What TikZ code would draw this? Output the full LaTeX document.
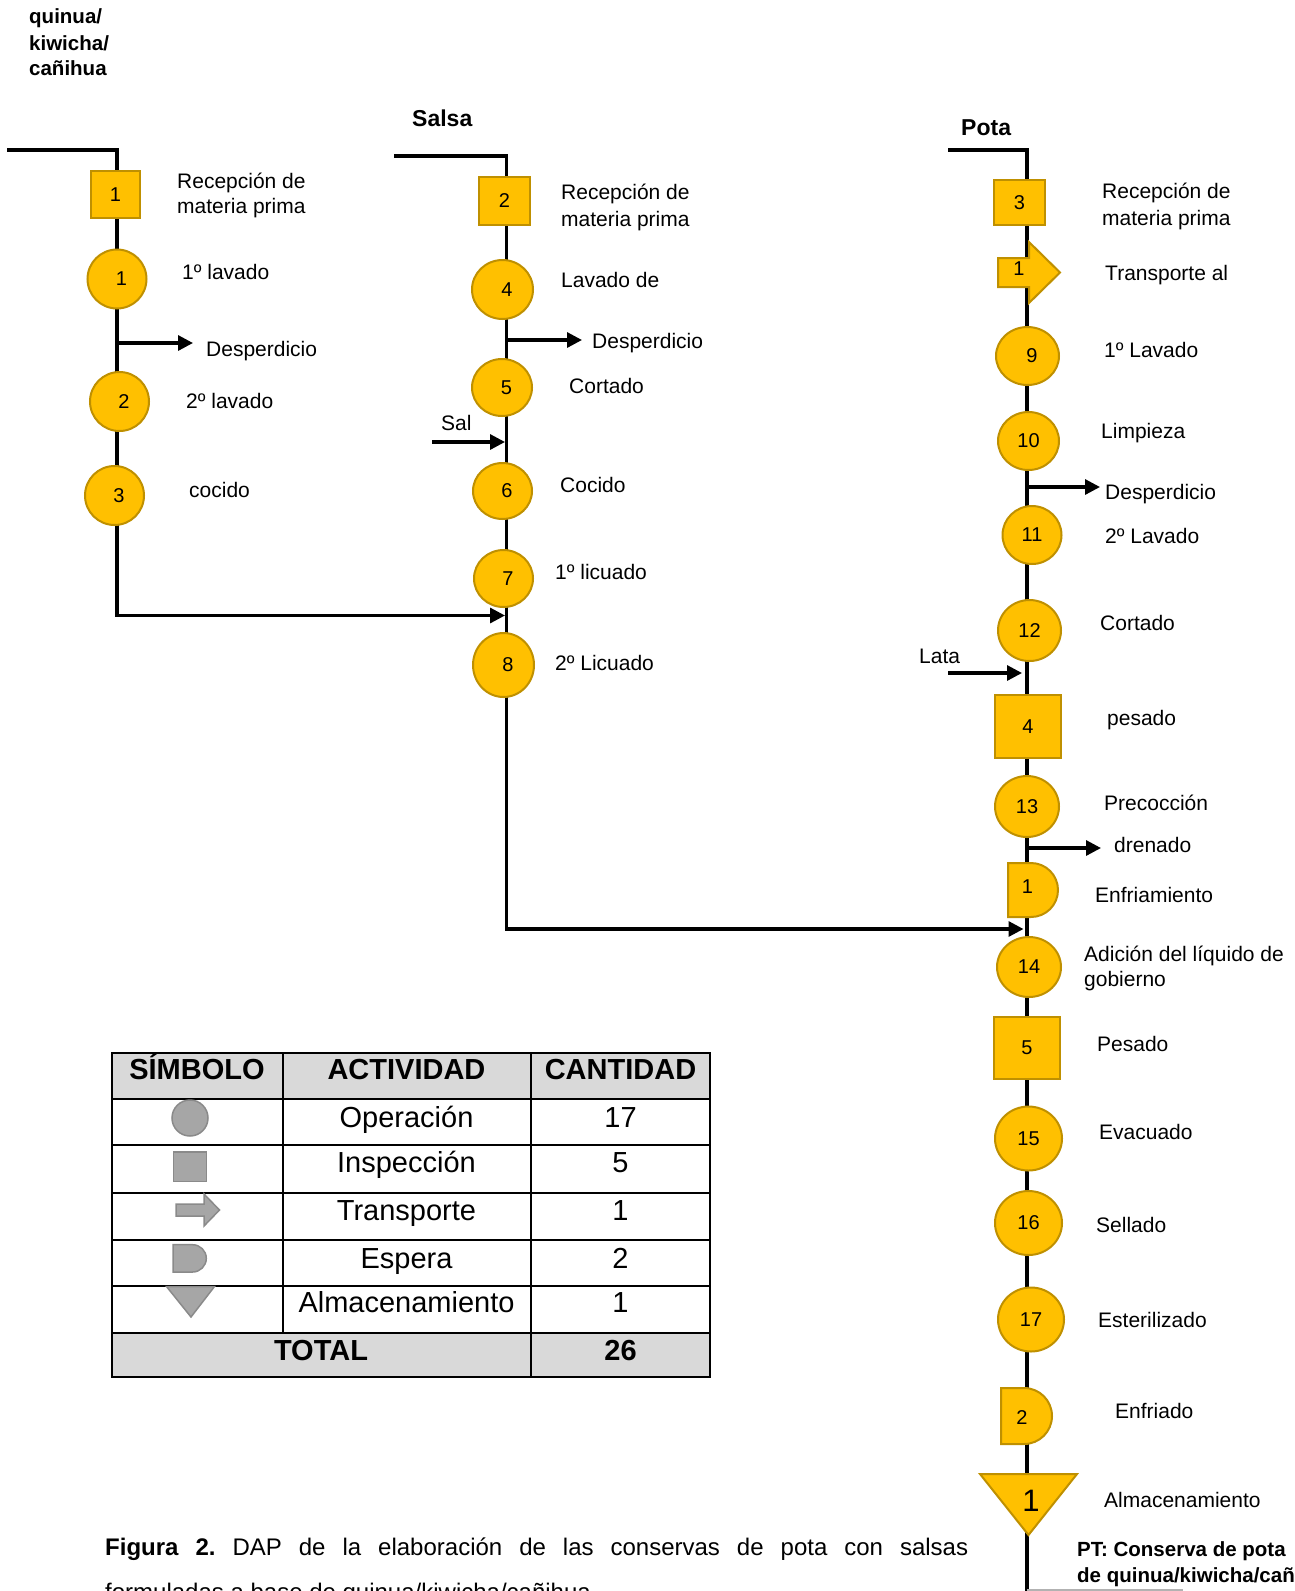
\documentclass[tikz,border=0pt]{standalone}
\usepackage{fontspec}
\setmainfont{Liberation Sans}
\usetikzlibrary{shapes.geometric,arrows.meta}
\definecolor{gold}{HTML}{FFC000}
\definecolor{golddk}{HTML}{BF9000}
\definecolor{symgray}{HTML}{A6A6A6}
\definecolor{symdk}{HTML}{8A8A8A}
\definecolor{hdrgray}{HTML}{D9D9D9}
\newcommand\fsz[1]{\fontsize{#1}{#1}\selectfont}
% single-digit operation numbers sit a little right of centre
\newcommand\rd[1]{\hspace*{9pt}#1}
\tikzset{
  flow/.style={line width=3.2pt, black},
  sidearrow/.style={-{Triangle[length=15pt 0 0,width=15pt 0 0]}},
  opn/.style 2 args={ellipse, draw=golddk, fill=gold, line width=2pt, inner sep=0pt,
    minimum width=#1pt, minimum height=#2pt, font=\fsz{20}},
  insp/.style 2 args={rectangle, draw=golddk, fill=gold, line width=2pt, inner sep=0pt,
    minimum width=#1pt, minimum height=#2pt, font=\fsz{20}},
  goldshape/.style={draw=golddk, fill=gold, line width=2pt, line join=miter},
  num/.style={inner sep=0pt, font=\fsz{20}},
  lbl/.style={anchor=base west, inner sep=0pt, font=\fsz{21}},
  ttl/.style={anchor=base west, inner sep=0pt, font=\bfseries\fsz{23}},
  ttlsm/.style={anchor=base west, inner sep=0pt, font=\bfseries\fsz{20.5}},
  sym/.style={draw=symdk, fill=symgray, line width=1.5pt},
  tbl/.style={line width=2pt, black},
  cell/.style={anchor=base, inner sep=0pt, font=\fsz{29}},
  hcell/.style={anchor=base, inner sep=0pt, font=\bfseries\fsz{29}},
}
\begin{document}
\begin{tikzpicture}[x=1pt,y=-1pt]
\useasboundingbox (0,0) rectangle (1294,1591);
\clip (0,0) rectangle (1294,1591);

% ---------- main flow lines ----------
\coordinate (qa) at (7,150);      \coordinate (qb) at (117,615.5);
\coordinate (sjoin) at (505,615.5);
\coordinate (sa) at (394,156);    \coordinate (sb) at (506.5,929);
\coordinate (pjoin) at (1023.5,929);
\coordinate (pa) at (948,150);    \coordinate (pb) at (1027,1591);
\draw[flow,sidearrow] (qa) -| (qb) -- (sjoin);
\draw[flow,sidearrow] (sa) -| (sb) -- (pjoin);
\draw[flow] (pa) -| (pb);
\draw[gray!60, line width=1.2pt] (pb |- 0,1590) -- (1183,1590);

% ---------- side inputs and outputs ----------
\coordinate (w1a) at (117,343);    \coordinate (w1b) at (193,343);
\coordinate (w2a) at (506.5,340);  \coordinate (w2b) at (582,340);
\coordinate (w3a) at (1027,487);   \coordinate (w3b) at (1100,487);
\coordinate (dra) at (1027,848);   \coordinate (drb) at (1101,848);
\coordinate (sla) at (432,442);    \coordinate (slb) at (505,442);
\coordinate (lta) at (948,673);    \coordinate (ltb) at (1022,673);
\draw[flow,sidearrow] (w1a) -- (w1b);
\draw[flow,sidearrow] (w2a) -- (w2b);
\draw[flow,sidearrow] (w3a) -- (w3b);
\draw[flow,sidearrow] (dra) -- (drb);
\draw[flow,sidearrow] (sla) -- (slb);
\draw[flow,sidearrow] (lta) -- (ltb);

% ---------- quinua / kiwicha / cañihua ----------
\node[ttlsm] (tq1) at (29,23) {quinua/};
\node[ttlsm] (tq2) at (29,50) {kiwicha/};
\node[ttlsm] (tq3) at (29,75) {cañihua};
\node[insp={49}{47}] (b1) at (115.5,194.5) {1};
\node[opn={59}{59}] (o1) at (117,279) {\rd{1}};
\node[opn={59}{59}] (o2) at (119.5,401.5) {\rd{2}};
\node[opn={59}{59}] (o3) at (114.5,495.5) {\rd{3}};
\node[lbl] (lb1a) at (177,188) {Recepción de};
\node[lbl] (lb1b) at (177,213) {materia prima};
\node[lbl] (lo1) at (182,279) {1º lavado};
\node[lbl] (ld1) at (206,356) {Desperdicio};
\node[lbl] (lo2) at (186,408) {2º lavado};
\node[lbl] (lo3) at (189,497) {cocido};

% ---------- Salsa ----------
\node[ttl] (ts) at (412,126) {Salsa};
\node[insp={51}{48}] (b2) at (504.5,201) {2};
\node[opn={61}{59}] (o4) at (502.5,289.5) {\rd{4}};
\node[opn={60}{57}] (o5) at (502,387.5) {\rd{5}};
\node[opn={59}{56}] (o6) at (502.5,491) {\rd{6}};
\node[opn={59}{57}] (o7) at (503.5,578.5) {\rd{7}};
\node[opn={61}{64}] (o8) at (503.5,665) {\rd{8}};
\node[lbl] (lb2a) at (561,199) {Recepción de};
\node[lbl] (lb2b) at (561,226) {materia prima};
\node[lbl] (lo4) at (561,287) {Lavado de};
\node[lbl] (ld2) at (592,348) {Desperdicio};
\node[lbl] (lo5) at (569,393) {Cortado};
\node[lbl] (lsal) at (441,430) {Sal};
\node[lbl] (lo6) at (560,492) {Cocido};
\node[lbl] (lo7) at (555,579) {1º licuado};
\node[lbl] (lo8) at (555,670) {2º Licuado};

% ---------- Pota ----------
\node[ttl] (tp) at (961,135) {Pota};
\node[insp={51}{45}] (b3) at (1019.5,202.5) {3};
\draw[goldshape] (998,258) -- (1029,258) -- (1029,242) -- (1060,272.5)
  -- (1029,303) -- (1029,287) -- (998,287) -- cycle;
\node[num] (t1) at (1019,269) {1};
\node[opn={63}{58}] (o9) at (1027.5,356) {\rd{9}};
\node[opn={61}{58}] (o10) at (1028.5,441) {10};
\node[opn={59}{58}] (o11) at (1032,535) {11};
\node[opn={63}{61}] (o12) at (1029.5,630.5) {12};
\node[insp={66}{63}] (b4) at (1028,726.5) {4};
\node[opn={64}{61}] (o13) at (1027,806.5) {13};
\draw[goldshape] (1008,863) -- (1031,863) .. controls (1045.9,863) and (1058,875.1) .. (1058,890)
  .. controls (1058,904.9) and (1045.9,917) .. (1031,917) -- (1008,917) -- cycle;
\node[num] (e1) at (1027.5,887) {1};
\node[opn={64}{60}] (o14) at (1029,967) {14};
\node[insp={66}{62}] (b5) at (1027,1048) {5};
\node[opn={67}{64}] (o15) at (1028.5,1138.5) {15};
\node[opn={67}{64}] (o16) at (1028.5,1223) {16};
\node[opn={66}{64}] (o17) at (1031,1319.5) {17};
\draw[goldshape] (1001,1388) -- (1024,1388) .. controls (1039.5,1388) and (1052,1400.5) .. (1052,1416)
  .. controls (1052,1431.5) and (1039.5,1444) .. (1024,1444) -- (1001,1444) -- cycle;
\node[num] (e2) at (1022,1417) {2};
\draw[goldshape] (980,1474) -- (1077,1474) -- (1028.5,1535) -- cycle;
\node[inner sep=0pt, font=\fsz{31}] (a1) at (1031,1501) {1};

\node[lbl] (lb3a) at (1102,198) {Recepción de};
\node[lbl] (lb3b) at (1102,225) {materia prima};
\node[lbl] (lt1) at (1105,280) {Transporte al};
\node[lbl] (lo9) at (1104,357) {1º Lavado};
\node[lbl] (lo10) at (1101,438) {Limpieza};
\node[lbl] (ld3) at (1105,499) {Desperdicio};
\node[lbl] (lo11) at (1105,543) {2º Lavado};
\node[lbl] (lo12) at (1100,630) {Cortado};
\node[lbl] (llata) at (919,663) {Lata};
\node[lbl] (lb4) at (1107,725) {pesado};
\node[lbl] (lo13) at (1104,810) {Precocción};
\node[lbl] (ldr) at (1114,852) {drenado};
\node[lbl] (le1) at (1095,902) {Enfriamiento};
\node[lbl] (lo14a) at (1084,961) {Adición del líquido de};
\node[lbl] (lo14b) at (1084,986) {gobierno};
\node[lbl] (lb5) at (1097,1051) {Pesado};
\node[lbl] (lo15) at (1099,1139.5) {Evacuado};
\node[lbl] (lo16) at (1096,1232) {Sellado};
\node[lbl] (lo17) at (1098,1327) {Esterilizado};
\node[lbl] (le2) at (1115,1418) {Enfriado};
\node[lbl] (la1) at (1104,1507) {Almacenamiento};
\node[ttlsm] (pt1) at (1077,1556) {PT: Conserva de pota};
\node[ttlsm] (pt2) at (1077,1582) {de quinua/kiwicha/cañihua};

% ---------- summary table ----------
\fill[hdrgray] (111.6,1052.5) rectangle (710.4,1099.2);
\fill[hdrgray] (111.6,1332.6) rectangle (710.4,1377.2);
\foreach \yy in {1099.2,1144.6,1192.5,1240,1285.5,1332.6}
  \draw[tbl] (111.6,\yy) -- (710.4,\yy);
\draw[tbl] (282.5,1052.5) -- (282.5,1332.6);
\draw[tbl] (530.5,1052.5) -- (530.5,1377.2);
\draw[tbl] (111.6,1052.5) rectangle (710.4,1377.2);

\node[hcell] (h1) at (197,1079) {SÍMBOLO};
\node[hcell] (h2) at (406.5,1079) {ACTIVIDAD};
\node[hcell] (h3) at (620.5,1079) {CANTIDAD};

\node[sym, circle, minimum size=36pt, inner sep=0pt] (s1) at (190,1118) {};
\node[sym, rectangle, minimum width=33pt, minimum height=29.5pt, inner sep=0pt] (s2) at (189.8,1166.5) {};
\draw[sym] (176,1204) -- (204,1204) -- (204,1194) -- (219.5,1210) -- (204,1226) -- (204,1216) -- (176,1216) -- cycle;
\draw[sym] (173.2,1244.7) -- (192.6,1244.7) .. controls (200.2,1244.7) and (206.3,1250.8) .. (206.3,1258.35)
  .. controls (206.3,1265.9) and (200.2,1272) .. (192.6,1272) -- (173.2,1272) -- cycle;
\draw[sym] (166.5,1286.5) -- (214.5,1286.5) -- (191,1317) -- cycle;

\node[cell] (r1) at (406.5,1127) {Operación};
\node[cell] (n1) at (620.5,1127) {17};
\node[cell] (r2) at (406.5,1172.7) {Inspección};
\node[cell] (n2) at (620.5,1172.7) {5};
\node[cell] (r3) at (406.5,1220) {Transporte};
\node[cell] (n3) at (620.5,1220) {1};
\node[cell] (r4) at (406.5,1268) {Espera};
\node[cell] (n4) at (620.5,1268) {2};
\node[cell] (r5) at (406.5,1312.7) {Almacenamiento};
\node[cell] (n5) at (620.5,1312.7) {1};
\node[hcell] (tot) at (321,1360) {TOTAL};
\node[hcell] (ntot) at (620.5,1360) {26};

% ---------- caption ----------
\node[anchor=base west, inner sep=0pt] (cap) at (105,1555)
  {\parbox[t]{863pt}{\fontsize{24}{45}\selectfont\frenchspacing\hyphenpenalty=10000
   \textbf{Figura 2.} DAP de la elaboración de las conservas de pota con salsas\linebreak
   formuladas a base de quinua/kiwicha/cañihua}};
\end{tikzpicture}
\end{document}
